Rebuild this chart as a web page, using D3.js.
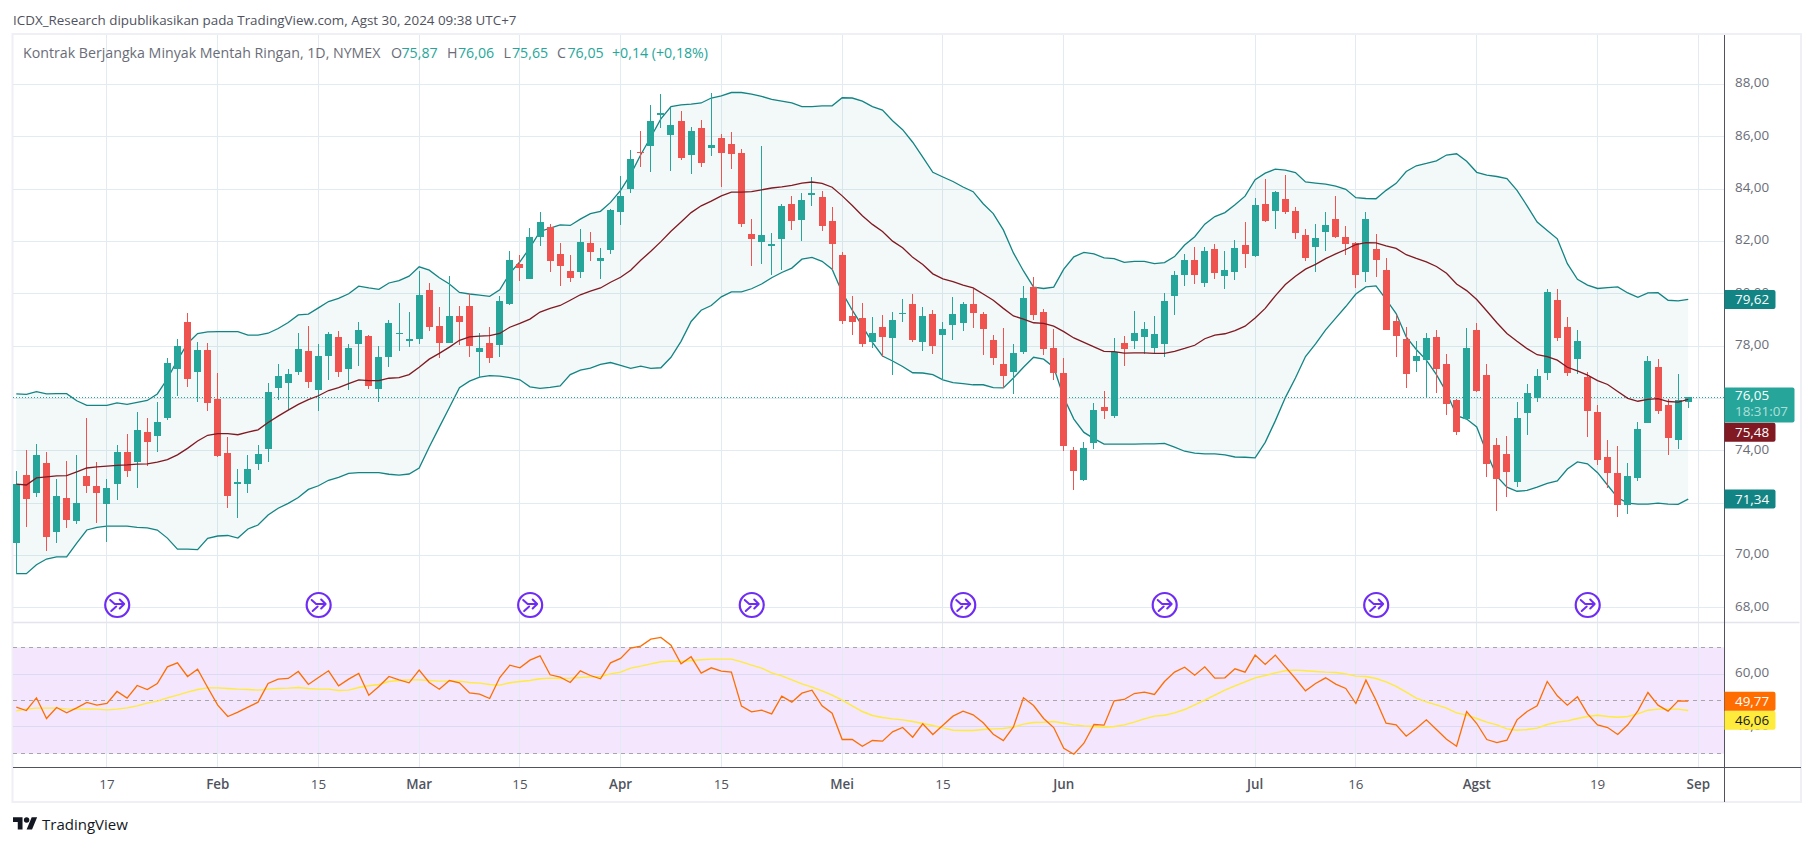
<!DOCTYPE html>
<html>
<head>
<meta charset="utf-8">
<title>Kontrak Berjangka Minyak Mentah Ringan</title>
<script src="https://cdn.jsdelivr.net/npm/d3@7"></script>
<style>
  html, body { margin: 0; padding: 0; background: #fff; }
  svg { display: block; font-family: "Open Sans", "Noto Sans", sans-serif; }
</style>
</head>
<body>
<div id="chart"></div>
<script>
// daily candles, Jan 2024 - Aug 30 2024
var opens = [
  70.48,73.07,72.37,73.52,70.89,72.19,71.30,73.02,72.64,71.95,
  72.72,73.94,73.57,74.70,74.55,75.26,77.12,78.92,77.00,77.84,
  75.97,73.90,72.76,72.72,73.49,74.05,76.39,76.57,77.00,77.80,
  76.32,77.62,78.34,77.12,78.07,78.37,76.35,77.57,78.47,78.22,
  78.27,80.14,78.76,78.11,79.14,79.52,77.76,78.12,78.03,79.59,
  81.13,80.56,82.16,82.54,81.52,80.86,80.82,81.94,81.24,81.67,
  83.11,84.00,85.43,85.64,86.83,86.06,86.59,85.30,86.33,85.58,
  85.95,85.72,85.38,82.28,81.97,81.82,82.09,83.43,82.81,83.77,
  83.69,82.77,81.47,79.14,79.07,78.14,78.72,78.31,79.24,79.60,
  78.14,79.22,78.42,78.80,78.88,79.60,79.22,78.23,77.31,77.00,
  77.76,80.25,79.29,77.92,76.97,74.02,72.87,74.29,75.66,75.32,
  78.12,78.18,78.33,77.92,78.08,79.90,80.71,81.28,80.41,81.71,
  80.67,80.82,81.86,81.43,83.43,83.15,83.62,83.15,82.24,81.77,
  82.35,82.85,82.16,81.94,80.82,81.71,80.90,78.95,78.27,77.42,
  77.46,78.33,77.31,75.95,75.21,78.61,76.89,74.21,73.87,72.79,
  75.44,76.01,76.97,79.75,78.72,77.50,76.81,75.47,73.75,73.15,
  71.92,72.96,75.06,77.19,75.74,74.40,75.87
];
var highs = [
  73.23,74.02,74.25,73.94,72.93,73.60,73.82,75.24,73.57,72.93,
  74.22,74.62,75.47,75.24,75.85,77.54,78.27,79.28,78.15,78.11,
  76.97,74.52,73.29,73.82,74.22,76.59,77.31,77.12,78.49,78.76,
  78.07,78.52,78.57,78.07,78.92,78.43,78.02,78.98,79.63,79.29,
  80.87,80.40,79.49,80.67,79.52,79.99,78.48,78.72,79.90,81.62,
  81.47,82.51,83.11,82.65,81.94,81.47,82.47,82.35,81.75,83.24,
  84.49,85.49,86.21,87.21,87.63,87.11,86.98,86.36,86.63,87.67,
  86.10,86.17,85.52,82.85,85.64,82.32,83.41,83.73,83.85,84.45,
  83.92,83.30,81.58,79.90,79.64,79.10,79.18,79.29,79.78,79.99,
  79.48,79.37,78.91,79.86,79.67,80.19,79.29,78.42,78.69,78.08,
  80.30,80.63,79.41,78.65,77.54,74.13,74.32,75.82,76.27,78.31,
  78.39,79.33,78.91,79.14,80.03,80.86,81.52,81.77,81.77,81.90,
  81.62,82.05,82.73,83.66,84.38,83.92,84.53,83.30,82.47,82.66,
  83.11,83.73,82.58,81.96,83.11,82.28,81.37,79.18,78.72,78.18,
  78.50,78.61,77.69,75.97,78.69,78.88,77.31,74.48,74.55,75.85,
  76.55,77.12,80.18,80.18,79.10,78.61,77.00,75.74,74.40,74.17,
  73.53,75.09,77.61,77.50,75.97,76.93,76.06
];
var lows = [
  69.30,71.09,72.24,70.18,70.48,71.04,71.19,72.37,71.22,70.51,
  72.10,72.99,72.57,73.41,73.94,75.17,76.10,76.44,75.86,75.53,
  73.75,71.80,71.43,72.37,73.26,73.57,75.92,75.56,76.89,76.39,
  75.53,76.69,76.82,76.33,77.22,76.35,75.85,77.19,77.80,77.95,
  78.07,78.57,77.54,78.11,78.04,77.57,76.81,77.35,77.57,79.56,
  80.48,80.56,81.82,80.82,80.29,80.44,80.60,81.24,80.56,81.52,
  82.62,83.85,84.83,84.64,86.33,84.68,85.11,84.57,84.83,85.26,
  84.07,84.76,82.54,81.05,81.13,80.71,80.90,82.43,82.01,83.34,
  82.39,80.91,78.84,78.42,77.95,77.92,77.57,76.89,78.91,78.14,
  77.80,77.69,76.71,78.23,78.57,78.69,77.65,77.27,76.40,76.16,
  77.69,78.99,77.65,76.70,73.98,72.49,72.85,74.06,75.21,75.25,
  77.23,77.88,77.69,77.73,77.57,79.18,80.29,80.37,80.25,80.56,
  80.18,80.52,80.98,81.42,82.73,82.47,83.06,82.09,81.24,80.82,
  81.62,82.13,81.47,80.23,80.44,80.64,78.61,77.57,76.40,77.00,
  76.03,76.20,75.36,74.59,75.21,76.23,72.98,71.69,72.22,72.60,
  74.59,75.85,76.70,78.18,76.85,76.93,74.51,73.45,72.57,71.45,
  71.58,72.83,75.06,75.40,73.83,74.06,75.65
];
var closes = [
  72.73,72.14,73.82,70.72,72.27,71.34,72.02,72.64,72.37,72.57,
  73.94,73.22,74.79,74.32,75.09,77.37,78.02,76.74,77.84,75.83,
  73.79,72.27,72.80,73.32,73.87,76.24,76.85,76.92,77.87,76.62,
  77.62,78.45,77.00,77.92,78.60,76.47,77.57,78.87,78.51,78.26,
  79.97,78.72,78.11,79.14,78.92,77.99,77.91,77.54,79.71,81.28,
  81.00,82.16,82.73,81.24,81.05,80.60,81.97,81.58,81.37,83.21,
  83.73,85.15,85.38,86.59,86.91,86.44,85.19,86.21,85.00,85.68,
  85.38,85.34,82.66,82.09,82.24,81.90,83.34,82.77,83.58,83.85,
  82.58,81.90,78.95,78.91,78.08,78.50,78.33,78.99,79.28,78.23,
  79.14,77.99,78.65,79.22,79.60,79.26,78.65,77.54,76.85,77.73,
  79.84,79.18,77.88,76.97,74.17,73.22,74.10,75.55,75.51,77.77,
  77.88,78.50,78.65,78.46,79.71,80.71,81.28,80.71,81.62,80.79,
  80.90,81.75,81.52,83.39,82.77,83.88,83.11,82.32,81.37,82.13,
  82.62,82.16,81.90,80.71,82.85,81.28,78.61,78.38,76.93,77.61,
  78.31,77.12,75.78,74.70,77.92,76.27,73.49,72.91,73.17,75.25,
  76.20,76.85,80.05,78.31,76.97,78.18,75.51,73.64,73.15,71.92,
  73.02,74.83,77.42,75.51,74.48,75.93,76.05
];

// bollinger bands
var bbUpper = [
  76.17,76.15,76.26,76.17,76.18,76.18,75.91,75.73,75.73,75.73,
  75.83,75.77,75.85,75.92,76.17,76.75,77.46,78.10,78.48,78.54,
  78.55,78.55,78.55,78.42,78.42,78.49,78.67,78.90,79.19,79.22,
  79.46,79.70,79.82,80.00,80.29,80.22,80.17,80.41,80.50,80.67,
  81.03,80.90,80.61,80.37,80.05,79.99,79.95,79.90,80.15,80.78,
  81.22,81.76,82.38,82.51,82.63,82.61,82.85,83.06,83.15,83.49,
  83.95,84.56,85.31,85.99,86.68,87.15,87.22,87.25,87.29,87.48,
  87.56,87.69,87.69,87.63,87.54,87.43,87.36,87.29,87.15,87.15,
  87.18,87.18,87.49,87.48,87.36,87.15,87.02,86.61,86.27,85.79,
  85.22,84.64,84.46,84.29,84.08,83.90,83.44,83.06,82.44,81.56,
  80.87,80.25,80.20,80.25,80.94,81.41,81.58,81.52,81.37,81.34,
  81.20,81.24,81.24,81.15,81.19,81.42,81.86,82.18,82.66,82.95,
  83.10,83.40,83.73,84.36,84.61,84.76,84.72,84.63,84.27,84.23,
  84.19,84.11,83.99,83.67,83.64,83.63,83.95,84.22,84.67,84.89,
  84.98,85.08,85.30,85.35,85.06,84.64,84.53,84.48,84.40,83.95,
  83.36,82.74,82.42,82.10,81.15,80.55,80.33,80.20,80.23,80.26,
  80.03,79.86,80.03,80.04,79.75,79.73,79.78
];
var bbBasis = [
  72.72,72.69,72.96,73.00,73.04,73.05,73.19,73.34,73.38,73.41,
  73.44,73.46,73.49,73.50,73.56,73.66,73.84,74.09,74.37,74.59,
  74.65,74.65,74.61,74.71,74.80,75.08,75.32,75.55,75.77,75.95,
  76.10,76.30,76.41,76.56,76.71,76.68,76.68,76.77,76.79,76.91,
  77.19,77.50,77.72,77.96,78.22,78.35,78.38,78.40,78.48,78.72,
  78.87,79.03,79.30,79.44,79.55,79.75,79.96,80.10,80.22,80.44,
  80.63,80.90,81.28,81.62,81.99,82.39,82.74,83.10,83.36,83.54,
  83.74,83.88,83.88,83.90,83.97,84.04,84.08,84.14,84.23,84.27,
  84.22,84.07,83.74,83.37,82.98,82.65,82.38,82.01,81.76,81.39,
  81.12,80.76,80.57,80.46,80.33,80.22,79.99,79.75,79.44,79.15,
  79.03,78.89,78.87,78.76,78.55,78.31,78.14,77.97,77.80,77.79,
  77.73,77.74,77.74,77.72,77.72,77.80,77.91,78.03,78.28,78.42,
  78.47,78.59,78.76,79.07,79.44,79.92,80.35,80.67,80.94,81.12,
  81.34,81.52,81.69,81.88,81.95,81.94,81.83,81.73,81.49,81.35,
  81.22,81.04,80.78,80.37,80.12,79.78,79.34,78.89,78.48,78.18,
  77.90,77.67,77.60,77.46,77.19,77.05,76.89,76.68,76.53,76.26,
  76.00,75.89,75.96,75.99,75.88,75.86,75.96
];
var bbLower = [
  69.30,69.30,69.64,69.86,69.94,69.94,70.47,70.97,71.07,71.12,
  71.12,71.12,71.07,71.05,70.97,70.66,70.24,70.24,70.22,70.65,
  70.74,70.76,70.66,71.01,71.16,71.54,71.80,71.99,72.21,72.52,
  72.66,72.87,72.98,73.13,73.16,73.16,73.16,73.10,73.07,73.11,
  73.34,74.14,74.90,75.65,76.41,76.66,76.81,76.87,76.85,76.79,
  76.71,76.44,76.38,76.42,76.48,76.91,77.08,77.16,77.30,77.37,
  77.26,77.15,77.23,77.15,77.17,77.57,78.18,78.94,79.37,79.55,
  79.88,80.07,80.07,80.19,80.37,80.61,80.81,80.98,81.32,81.39,
  81.24,80.94,80.05,79.37,78.76,78.14,77.62,77.43,77.22,76.98,
  76.97,76.91,76.71,76.60,76.56,76.52,76.52,76.41,76.40,76.78,
  77.19,77.57,77.50,77.19,76.03,75.21,74.70,74.46,74.25,74.25,
  74.25,74.25,74.26,74.26,74.28,74.14,73.98,73.91,73.88,73.88,
  73.84,73.76,73.75,73.73,74.32,75.14,76.03,76.78,77.60,78.08,
  78.62,79.07,79.51,79.99,80.26,80.30,79.78,79.24,78.35,77.87,
  77.46,76.91,76.23,75.34,75.21,74.91,73.91,73.02,72.61,72.45,
  72.48,72.61,72.75,72.85,73.30,73.57,73.50,73.16,72.68,72.20,
  72.00,71.96,71.96,72.00,71.96,71.95,72.15
];

// rsi pane
var rsiValues = [
  47.49,46.24,51.00,43.23,47.37,45.36,47.24,49.25,48.24,48.87,
  53.39,50.88,55.64,54.14,56.39,62.66,64.17,59.03,61.79,54.89,
  48.24,43.98,45.61,47.49,49.37,56.39,58.03,58.28,60.91,56.02,
  58.65,61.16,55.52,58.03,60.16,52.01,55.27,59.03,57.77,56.65,
  61.41,56.77,54.26,57.52,56.65,52.88,52.38,50.75,58.65,63.29,
  62.29,65.17,66.80,59.66,58.78,56.77,61.16,59.40,58.15,64.17,
  65.80,69.69,70.44,73.07,73.70,70.81,63.79,66.43,60.28,62.29,
  61.03,60.66,47.87,45.74,46.36,44.98,51.63,49.37,52.76,53.89,
  47.99,45.23,35.33,35.33,32.82,34.95,34.70,38.21,39.84,36.21,
  41.22,37.21,40.72,44.11,45.99,44.61,41.60,37.34,34.95,40.09,
  51.00,48.12,43.23,39.84,32.07,29.81,33.95,40.97,40.72,49.87,
  50.38,52.63,53.13,52.26,57.15,60.66,62.54,59.53,62.66,58.40,
  58.53,61.91,60.66,67.05,63.54,67.05,62.66,58.28,53.64,56.39,
  58.53,56.14,54.51,48.87,57.65,50.13,41.47,40.85,36.58,39.47,
  42.73,39.09,35.45,32.82,45.86,41.35,35.33,34.20,35.08,42.73,
  45.86,47.99,57.15,51.76,48.24,51.38,44.98,40.85,39.84,37.21,
  40.85,46.11,53.01,48.24,45.99,49.87,49.77
];
var rsiMa = [
  46.11,46.74,47.12,47.12,47.12,46.87,46.74,46.87,46.74,46.49,
  46.74,47.24,47.99,49.00,49.75,51.00,52.01,53.13,54.14,54.76,
  54.76,54.51,54.26,54.14,53.89,54.26,54.51,54.64,54.89,54.51,
  54.26,54.26,53.76,53.89,54.89,55.52,56.02,57.15,57.52,57.77,
  57.77,57.52,57.27,57.27,57.27,56.77,56.52,56.02,55.77,56.65,
  57.15,57.52,58.15,58.40,58.28,58.40,58.65,58.90,59.03,60.03,
  60.66,62.16,62.92,63.79,64.55,64.80,64.67,65.05,65.30,65.55,
  65.55,65.55,64.55,63.29,62.16,60.41,59.28,57.77,56.27,55.02,
  53.64,52.01,50.13,47.99,45.86,44.36,43.61,43.10,42.73,42.10,
  41.35,40.60,39.72,38.84,38.71,38.71,39.09,39.34,39.47,39.97,
  41.10,41.72,41.85,42.10,41.47,40.85,40.47,40.22,39.97,40.22,
  40.85,41.85,43.10,44.11,44.48,45.36,46.61,48.37,50.13,52.01,
  53.89,55.52,57.02,58.53,59.40,60.41,61.16,61.41,61.16,60.91,
  60.66,60.53,60.03,59.15,59.03,58.28,57.02,55.27,53.13,50.88,
  49.50,48.37,47.12,45.36,44.48,43.23,41.85,40.85,39.34,38.84,
  39.09,39.59,40.97,41.85,42.35,43.23,43.98,44.48,43.98,43.73,
  43.98,44.98,46.36,46.74,46.74,46.74,46.24
];

// ticks
var priceTicks = [88, 86, 84, 82, 80, 78, 76, 74, 72, 70, 68];
var priceLabels = ["88,00", "86,00", "84,00", "82,00", "80,00", "78,00", "76,00", "74,00", "72,00", "70,00", "68,00"];
var timeIndex = [9, 20, 30, 40, 50, 60, 70, 82, 92, 104, 123, 133, 145, 157, 167];
var timeLabels = ["17", "Feb", "15", "Mar", "15", "Apr", "15", "Mei", "15", "Jun", "Jul", "16", "Agst", "19", "Sep"];
var monthLabels = ["Feb", "Mar", "Apr", "Mei", "Jun", "Jul", "Agst", "Sep"];
var rsiBands = [70, 50, 30];
var rsiGrid = [59.8, 40.2];
var rsiGridLabels = ["60,00", "40,00"];
var splitIndex = [10, 30, 51, 73, 94, 114, 135, 156];

var lastPrice = 76.05;
// legend pieces: text, colour, left edge in px
var legendText = ["O", "75,87", "H", "76,06", "L", "75,65", "C", "76,05", "+0,14 (+0,18%)"];
var legendColors = ["#6a6d78", "#26a69a", "#6a6d78", "#26a69a", "#6a6d78", "#26a69a", "#6a6d78", "#26a69a", "#26a69a"];
var legendLeft = [391, 401.5, 447, 458, 503.5, 512, 557, 567.5, 612];

var w = 1814, h = 846;
var paneLeft = 13, paneRight = 1724.5, paneTop = 35, paneBottom = 767;

var x = d3.scaleLinear().domain([0, 167]).range([16.3, 1698.3]);
var y = d3.scaleLinear().domain([68, 88]).range([607.7, 84.4]);
var yRsi = d3.scaleLinear().domain([30, 70]).range([753.7, 647.3]);
function px(i) { return Math.floor(x(i)) + 0.5; }

var svg = d3.select("#chart").append("svg").attr("width", w).attr("height", h);

svg.append("defs").append("clipPath").attr("id", "pane")
  .append("rect").attr("x", paneLeft).attr("y", paneTop)
  .attr("width", paneRight - paneLeft).attr("height", paneBottom - paneTop);

// frame
svg.append("rect").attr("x", 12.5).attr("y", 34).attr("width", 1788.5).attr("height", 768)
  .attr("fill", "#fff").attr("stroke", "#eef0f5").attr("stroke-width", 2);

// header line
svg.append("text").attr("x", 13).attr("y", 25).attr("font-size", 13.4).attr("fill", "#50535e")
  .text("ICDX_Research dipublikasikan pada TradingView.com, Agst 30, 2024 09:38 UTC+7");

// rsi background sits under the grid
var rsiPane = svg.append("g");
rsiPane.append("rect").attr("x", paneLeft).attr("width", paneRight - paneLeft)
  .attr("y", yRsi(70)).attr("height", yRsi(30) - yRsi(70)).attr("fill", "#f3e6fd");

// grid
var grid = svg.append("g").attr("shape-rendering", "crispEdges");
grid.selectAll(".v").data(timeIndex).enter().append("line")
  .attr("x1", px).attr("x2", px).attr("y1", paneTop).attr("y2", paneBottom)
  .attr("stroke", "#e2ebf1");
grid.selectAll(".h").data(priceTicks).enter().append("line")
  .attr("x1", paneLeft).attr("x2", paneRight).attr("y1", function(d) { return y(d); }).attr("y2", function(d) { return y(d); })
  .attr("stroke", "#e2ebf1");
grid.selectAll(".r").data(rsiGrid).enter().append("line")
  .attr("x1", paneLeft).attr("x2", paneRight).attr("y1", function(d) { return yRsi(d); }).attr("y2", function(d) { return yRsi(d); })
  .attr("stroke", "#dcd9f2");
grid.selectAll(".b").data(rsiBands).enter().append("line")
  .attr("x1", paneLeft).attr("x2", paneRight).attr("y1", function(d) { return yRsi(d); }).attr("y2", function(d) { return yRsi(d); })
  .attr("stroke", "#a8a6ad").attr("stroke-dasharray", "4,4");

// pane separator
svg.append("line").attr("x1", paneLeft).attr("x2", paneRight + 75).attr("y1", 622.5).attr("y2", 622.5)
  .attr("stroke", "#e3e4ec").attr("stroke-width", 1.5);

var plot = svg.append("g").attr("clip-path", "url(#pane)");
var idx = d3.range(closes.length);

// bollinger fill and lines
plot.append("path").datum(idx)
  .attr("fill", "#138484").attr("fill-opacity", 0.05)
  .attr("d", d3.area().x(function(i) { return x(i); })
    .y0(function(i) { return y(bbLower[i]); }).y1(function(i) { return y(bbUpper[i]); }));

// last price dotted line goes under the candles
plot.append("line").attr("x1", paneLeft).attr("x2", paneRight)
  .attr("y1", Math.floor(y(lastPrice)) + 0.5).attr("y2", Math.floor(y(lastPrice)) + 0.5)
  .attr("stroke", "#26a69a").attr("stroke-dasharray", "1,2");

var lineOf = function(values, scale) {
  return d3.line().x(function(i) { return x(i); }).y(function(i) { return scale(values[i]); });
};
plot.append("path").datum(idx).attr("fill", "none").attr("stroke", "#138484").attr("stroke-width", 1.3).attr("d", lineOf(bbUpper, y));
plot.append("path").datum(idx).attr("fill", "none").attr("stroke", "#138484").attr("stroke-width", 1.3).attr("d", lineOf(bbLower, y));

// candles
function candleColor(i) { return closes[i] >= opens[i] ? "#26a69a" : "#ef5350"; }
var candles = plot.append("g").attr("shape-rendering", "crispEdges");
candles.selectAll(".wick").data(idx).enter().append("line")
  .attr("x1", px).attr("x2", px)
  .attr("y1", function(i) { return y(highs[i]); }).attr("y2", function(i) { return y(lows[i]); })
  .attr("stroke", candleColor);
candles.selectAll(".body").data(idx).enter().append("rect")
  .attr("x", function(i) { return px(i) - 3.5; })
  .attr("width", 7)
  .attr("y", function(i) { return y(Math.max(opens[i], closes[i])); })
  .attr("height", function(i) { return Math.max(1.5, Math.abs(y(opens[i]) - y(closes[i]))); })
  .attr("fill", candleColor);

plot.append("path").datum(idx).attr("fill", "none").attr("stroke", "#801922").attr("stroke-width", 1.3).attr("d", lineOf(bbBasis, y));

// rsi lines
plot.append("path").datum(idx).attr("fill", "none").attr("stroke", "#ffeb3b").attr("stroke-width", 1.4).attr("d", lineOf(rsiMa, yRsi));
plot.append("path").datum(idx).attr("fill", "none").attr("stroke", "#ff6d00").attr("stroke-width", 1.3).attr("d", lineOf(rsiValues, yRsi));

// split markers
var marks = svg.append("g").selectAll("g").data(splitIndex).enter().append("g")
  .attr("transform", function(i) { return "translate(" + (x(i) + 0.2) + ",605)"; })
  .attr("fill", "none").attr("stroke", "#6f2cf5");
marks.append("circle").attr("r", 12).attr("fill", "#fff").attr("stroke-width", 2.2);
marks.append("path").attr("stroke-width", 2).attr("stroke-linecap", "round").attr("stroke-linejoin", "round")
  .attr("d", "M-7,-5 L-2.5,-1 L7,-1 M2.5,-5.5 L7,-1 L2.5,3.5 M-1,1.5 L-6,6");

// axes
svg.append("line").attr("x1", paneRight).attr("x2", paneRight).attr("y1", paneTop).attr("y2", 802)
  .attr("stroke", "#50535e").attr("shape-rendering", "crispEdges");
svg.append("line").attr("x1", paneLeft).attr("x2", 1801).attr("y1", 767.5).attr("y2", 767.5)
  .attr("stroke", "#50535e");

var axisText = svg.append("g").attr("font-size", 13.4).attr("fill", "#6a6d78");
axisText.selectAll(".p").data(priceTicks).enter().append("text")
  .attr("x", 1735).attr("y", function(d) { return y(d) + 3; })
  .text(function(d, i) { return priceLabels[i]; });
axisText.selectAll(".rl").data(rsiGrid).enter().append("text")
  .attr("x", 1735).attr("y", function(d) { return yRsi(d) + 3; })
  .text(function(d, i) { return rsiGridLabels[i]; });
svg.append("g").attr("font-size", 13.4).attr("fill", "#50535e")
  .selectAll("text").data(timeIndex).enter().append("text")
  .attr("x", function(i) { return x(i); }).attr("y", 789).attr("text-anchor", "middle")
  .attr("font-weight", function(i, k) { return monthLabels.indexOf(timeLabels[k]) >= 0 ? 600 : 400; })
  .text(function(i, k) { return timeLabels[k]; });

// tags on the right axis
function tag(cy, ht, wd, fill, txt, color, weight) {
  var g = svg.append("g");
  g.append("path").attr("fill", fill)
    .attr("d", "M" + paneRight + "," + (cy - ht / 2) + "h" + (wd - 2) + "q2,0 2,2v" + (ht - 4) + "q0,2 -2,2h-" + (wd - 2) + "z");
  g.append("text").attr("x", 1735).attr("y", cy + 4.5).attr("font-size", 13.4).attr("fill", color).attr("font-weight", weight || 400).text(txt);
  return g;
}
var upperY = y(bbUpper[bbUpper.length - 1]);
var lowerY = y(bbLower[bbLower.length - 1]);
tag(upperY, 19, 51, "#138484", "79,62", "#fff");
tag(lowerY, 19, 51, "#138484", "71,34", "#fff");
tag(432.3, 19, 51, "#801922", "75,48", "#fff");
var nowTag = tag(405, 35, 70, "#26a69a", "76,05", "#fff");
nowTag.select("text").attr("y", 400);
nowTag.append("text").attr("x", 1735).attr("y", 416).attr("font-size", 13.4).attr("fill", "#fff").attr("fill-opacity", 0.65).text("18:31:07");
tag(720.2, 19, 51, "#ffeb3b", "46,06", "#131722");
tag(701.3, 19, 51, "#ff6d00", "49,77", "#fff");

// legend
svg.append("text").attr("x", 23).attr("y", 58).attr("font-size", 14.2).attr("fill", "#6a6d78")
  .text("Kontrak Berjangka Minyak Mentah Ringan, 1D, NYMEX");
svg.append("g").attr("font-size", 14.2)
  .selectAll("text").data(legendText).enter().append("text")
  .attr("x", function(d, i) { return legendLeft[i]; }).attr("y", 58)
  .attr("fill", function(d, i) { return legendColors[i]; })
  .text(function(d) { return d; });

// logo
var logo = svg.append("g").attr("transform", "translate(13,812.5) scale(0.68)").attr("fill", "#131722");
logo.append("path").attr("d", "M14 25H7V14H0V7h14v18ZM28 25h-8l7.5-18h8L28 25Z");
logo.append("circle").attr("cx", 20).attr("cy", 11).attr("r", 4);
svg.append("text").attr("x", 42).attr("y", 830).attr("font-size", 15).attr("fill", "#131722").text("TradingView");
</script>
</body>
</html>
